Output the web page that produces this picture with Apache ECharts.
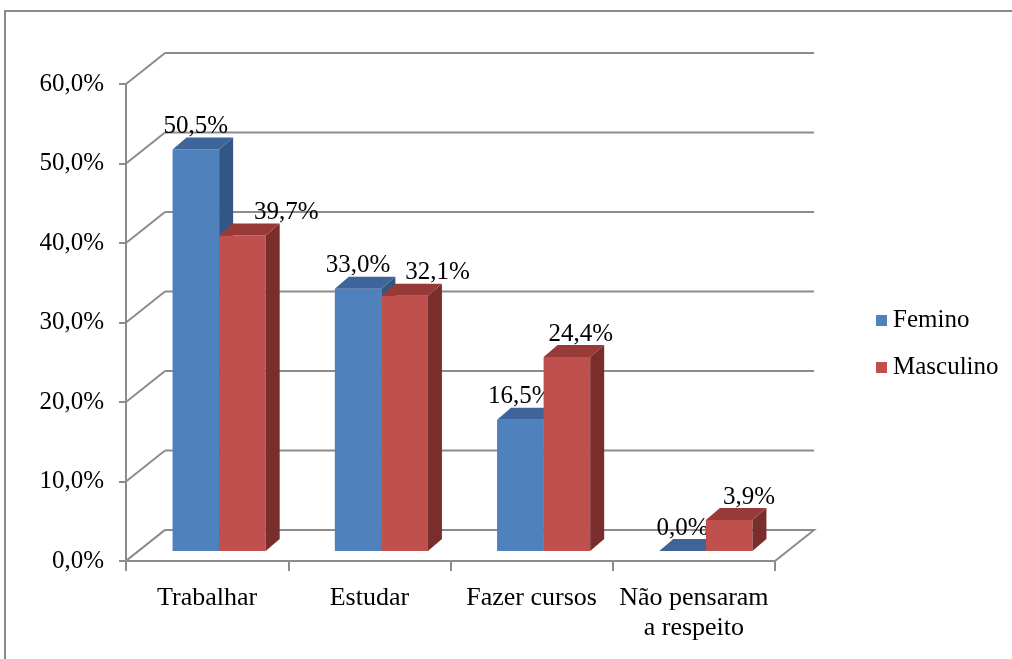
<!DOCTYPE html>
<html>
<head>
<meta charset="utf-8">
<script src="https://cdn.jsdelivr.net/npm/echarts@6/dist/echarts.min.js"></script>
<style>html,body{margin:0;padding:0;background:#fff;}#c{width:1012px;height:659px;}</style>
</head>
<body>
<div id="c"></div>
<script>
var categories = ['Trabalhar', 'Estudar', 'Fazer cursos', 'Não pensaram\na respeito'];
var femino = [50.5, 33.0, 16.5, 0.0];
var masculino = [39.7, 32.1, 24.4, 3.9];
var yTicks = [0, 10, 20, 30, 40, 50, 60];

var chart = echarts.init(document.getElementById('c'));
var FONT = '"Liberation Serif", "Times New Roman", serif';
var GRAY = '#8c8c8c';
// 3D projection constants (pixels)
var WX = 39, WY = -31;   // back wall offset
var BX = 12, BY = -10;   // bar plane offset
var DX = 14, DY = -12;   // bar depth
var labelNudge = [[0, 0, 0, 0], [44, 33, 14, 20]];

function fmt(v) { return v.toFixed(1).replace('.', ',') + '%'; }

function wallItem(params, api) {
  var cs = params.coordSys;
  var v = api.value(0);
  var y = api.coord([0, v])[1];
  var x0 = cs.x, x1 = cs.x + cs.width;
  return {
    type: 'group',
    children: [
      { type: 'line', shape: { x1: x0, y1: y, x2: x0 + WX, y2: y + WY }, style: { stroke: GRAY, lineWidth: 2 } },
      { type: 'line', shape: { x1: x0 + WX, y1: y + WY, x2: x1 + WX, y2: y + WY }, style: { stroke: GRAY, lineWidth: 2 } }
    ]
  };
}

function floorItem(params, api) {
  var cs = params.coordSys;
  var y = api.coord([0, 0])[1];
  var x0 = cs.x, x1 = cs.x + cs.width;
  return {
    type: 'polygon',
    shape: { points: [[x0, y], [x1, y], [x1 + WX, y + WY], [x0 + WX, y + WY]] },
    style: { fill: '#ffffff', stroke: GRAY, lineWidth: 2 }
  };
}

function makeBarItem(si, cFront, cTop, cSide) {
  return function (params, api) {
    var ci = api.value(0), v = api.value(1);
    var base = api.coord([ci, 0]);
    var topP = api.coord([ci, v]);
    var band = api.size([1, 0])[0];
    var w = band * 0.287;
    var cx = base[0] + BX;
    var left = si === 0 ? cx - w : cx;
    var right = left + w;
    var yb = base[1] + BY;
    var yt = topP[1] + BY;
    var children = [];
    if (yb - yt > 0.5) {
      children.push({ type: 'rect', shape: { x: left, y: yt, width: w, height: yb - yt }, style: { fill: cFront } });
      children.push({ type: 'polygon', shape: { points: [[right, yt], [right + DX, yt + DY], [right + DX, yb + DY], [right, yb]] }, style: { fill: cSide } });
    }
    children.push({ type: 'polygon', shape: { points: [[left, yt], [left + DX, yt + DY], [right + DX, yt + DY], [right, yt]] }, style: { fill: cTop } });
    children.push({
      type: 'text', z2: 100,
      style: {
        text: fmt(v), x: (left + right) / 2 + labelNudge[si][ci], y: yt + DY - 11,
        align: 'center', verticalAlign: 'middle',
        font: '25px ' + FONT, fill: '#000'
      }
    });
    return { type: 'group', children: children };
  };
}

var feminoData = femino.map(function (v, i) { return [i, v]; });
var masculinoData = masculino.map(function (v, i) { return [i, v]; });

chart.setOption({
  animation: false,
  backgroundColor: '#ffffff',
  graphic: [{
    type: 'rect', shape: { x: 5, y: 11, width: 1040, height: 700 },
    style: { fill: 'none', stroke: '#8a8a8a', lineWidth: 2 }, z: 100, silent: true
  }],
  legend: {
    orient: 'vertical', left: 876, top: 308, padding: 0, itemWidth: 11, itemHeight: 11, itemGap: 22,
    icon: 'rect',
    textStyle: { fontFamily: FONT, fontSize: 25, color: '#000', padding: [0, 0, 0, 1] },
    data: [{ name: 'Femino', itemStyle: { color: '#4F81BD' } }, { name: 'Masculino', itemStyle: { color: '#C0504D' } }]
  },
  grid: { left: 126, top: 84, width: 649, height: 477, containLabel: false },
  xAxis: {
    type: 'category', data: categories, boundaryGap: true,
    axisLine: { show: false },
    axisTick: { show: true, length: 10, lineStyle: { color: GRAY, width: 2 } },
    axisLabel: { margin: 22, fontFamily: FONT, fontSize: 26, lineHeight: 30, color: '#000', interval: 0 },
    splitLine: { show: false }
  },
  yAxis: {
    type: 'value', min: 0, max: 60, interval: 10,
    axisLine: { show: true, lineStyle: { color: GRAY, width: 2 } },
    axisTick: { show: true, length: 7, lineStyle: { color: GRAY, width: 2 } },
    axisLabel: { margin: 22, fontFamily: FONT, fontSize: 25, color: '#000', formatter: function (v) { return fmt(v); } },
    splitLine: { show: false }
  },
  series: [
    { type: 'custom', name: 'wall', renderItem: wallItem, data: yTicks.map(function (v) { return [v]; }), encode: { y: 0 }, silent: true, z: 1 },
    { type: 'custom', name: 'floor', renderItem: floorItem, data: [[0]], silent: true, z: 2 },
    { type: 'custom', name: 'Femino', renderItem: makeBarItem(0, '#4F81BD', '#3D6599', '#335785'), data: feminoData, encode: { x: 0, y: 1 }, z: 3, itemStyle: { color: '#4F81BD' } },
    { type: 'custom', name: 'Masculino', renderItem: makeBarItem(1, '#C0504D', '#983A38', '#7A2E2C'), data: masculinoData, encode: { x: 0, y: 1 }, z: 4, itemStyle: { color: '#C0504D' } }
  ]
});
</script>
</body>
</html>
